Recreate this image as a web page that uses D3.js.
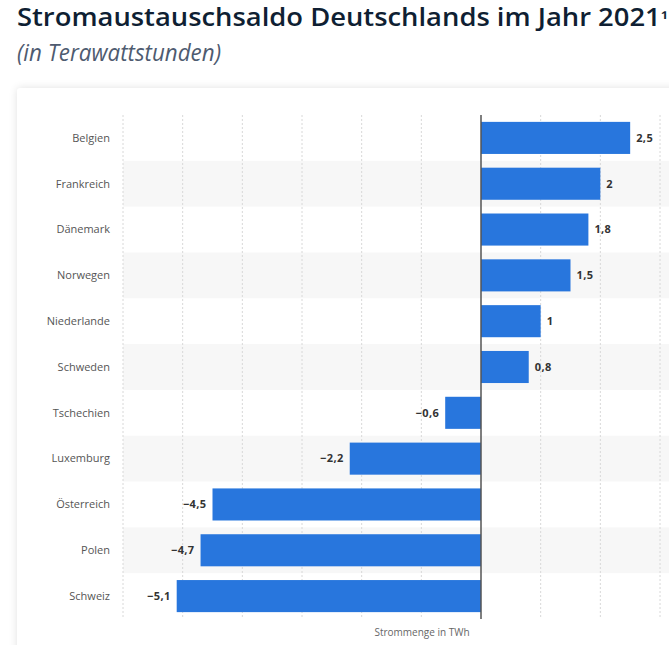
<!DOCTYPE html>
<html>
<head>
<meta charset="utf-8">
<script src="https://cdn.jsdelivr.net/npm/d3@7"></script>
<style>
	body { margin: 0; background: #fff; font-family: "Open Sans", sans-serif; }
	.card { position: absolute; left: 17px; top: 88px; width: 700px; height: 600px; background: #fff;
		box-shadow: 0 0 8px rgba(0, 0, 0, 0.12); border-radius: 3px; }
	svg { position: absolute; left: 0; top: 0; }
</style>
</head>
<body>
<div class="card"></div>
<div id="chart"></div>
<script>
	"use strict";

	var countries = ['Belgien', 'Frankreich', 'Dänemark', 'Norwegen', 'Niederlande', 'Schweden',
		'Tschechien', 'Luxemburg', 'Österreich', 'Polen', 'Schweiz'];
	var saldo = [2.5, 2, 1.8, 1.5, 1, 0.8, -0.6, -2.2, -4.5, -4.7, -5.1];
	var gridTicks = [-6, -5, -4, -3, -2, -1, 1, 2, 3];

	var width = 669, height = 645;
	var margins = {top: 115, right: 9, bottom: 26, left: 123};

	var svg = d3.select('#chart').append('svg')
		.attr('width', width)
		.attr('height', height);

	// title + subtitle
	var title = svg.append('text')
		.attr('x', 17)
		.attr('y', 26)
		.attr('fill', '#0f1f33')
		.style('font-size', '24.5px')
		.style('font-weight', 600)
		.attr('textLength', 651)
		.attr('lengthAdjust', 'spacingAndGlyphs');
	title.append('tspan').text('Stromaustauschsaldo Deutschlands im Jahr 2021');
	title.append('tspan').style('font-size', '18px').text('¹');

	svg.append('text')
		.attr('x', 17)
		.attr('y', 61)
		.attr('fill', '#4e5b70')
		.style('font-size', '24px')
		.style('font-style', 'italic')
		.attr('textLength', 204)
		.attr('lengthAdjust', 'spacingAndGlyphs')
		.text('(in Terawattstunden)');

	var x = d3.scaleLinear()
		.domain([-6, 3])
		.range([margins.left, width - margins.right]);

	var y = d3.scaleBand()
		.domain(countries)
		.range([margins.top, height - margins.bottom])
		.paddingInner(0.3)
		.paddingOuter(0.15);

	var step = y.step();

	// alternating row bands
	svg.append('g')
		.selectAll('rect')
		.data(countries.filter(function(d, i) { return i % 2 === 1; }))
		.enter().append('rect')
			.attr('x', margins.left)
			.attr('y', function(d) { return y(d) + y.bandwidth() / 2 - step / 2; })
			.attr('width', width - margins.left)
			.attr('height', step)
			.attr('fill', '#f7f7f7');

	// dotted grid
	svg.append('g')
		.selectAll('line')
		.data(gridTicks)
		.enter().append('line')
			.attr('x1', function(d) { return x(d); })
			.attr('x2', function(d) { return x(d); })
			.attr('y1', margins.top)
			.attr('y2', height - margins.bottom)
			.attr('stroke', '#d8d8d8')
			.attr('stroke-width', 1)
			.attr('stroke-dasharray', '2,2');

	// bars
	svg.append('g')
		.selectAll('rect')
		.data(countries)
		.enter().append('rect')
			.attr('x', function(d, i) { return x(Math.min(0, saldo[i])); })
			.attr('y', function(d) { return y(d); })
			.attr('width', function(d, i) { return Math.abs(x(saldo[i]) - x(0)); })
			.attr('height', y.bandwidth())
			.attr('fill', '#2876dd');

	// zero line
	svg.append('line')
		.attr('x1', x(0))
		.attr('x2', x(0))
		.attr('y1', margins.top)
		.attr('y2', height - margins.bottom)
		.attr('stroke', '#555')
		.attr('stroke-width', 1.5);

	// category labels
	svg.append('g')
		.selectAll('text')
		.data(countries)
		.enter().append('text')
			.attr('x', 110)
			.attr('y', function(d) { return y(d) + y.bandwidth() / 2; })
			.attr('dy', '0.35em')
			.attr('text-anchor', 'end')
			.attr('fill', '#555')
			.style('font-size', '11px')
			.text(function(d) { return d; });

	// value labels
	var fmt = function(v) { return (v < 0 ? '\u2212' : '') + String(Math.abs(v)).replace('.', ','); };
	svg.append('g')
		.selectAll('text')
		.data(countries)
		.enter().append('text')
			.attr('x', function(d, i) { return saldo[i] < 0 ? x(saldo[i]) - 6 : x(saldo[i]) + 6; })
			.attr('y', function(d) { return y(d) + y.bandwidth() / 2; })
			.attr('dy', '0.35em')
			.attr('text-anchor', function(d, i) { return saldo[i] < 0 ? 'end' : 'start'; })
			.attr('fill', '#333')
			.style('font-size', '11px')
			.style('font-weight', 700)
			.style('letter-spacing', '0.4px')
			.text(function(d, i) { return fmt(saldo[i]); });

	// axis title
	svg.append('text')
		.attr('x', 422)
		.attr('y', 636)
		.attr('text-anchor', 'middle')
		.attr('fill', '#666')
		.style('font-size', '10px')
		.text('Strommenge in TWh');
</script>
</body>
</html>
